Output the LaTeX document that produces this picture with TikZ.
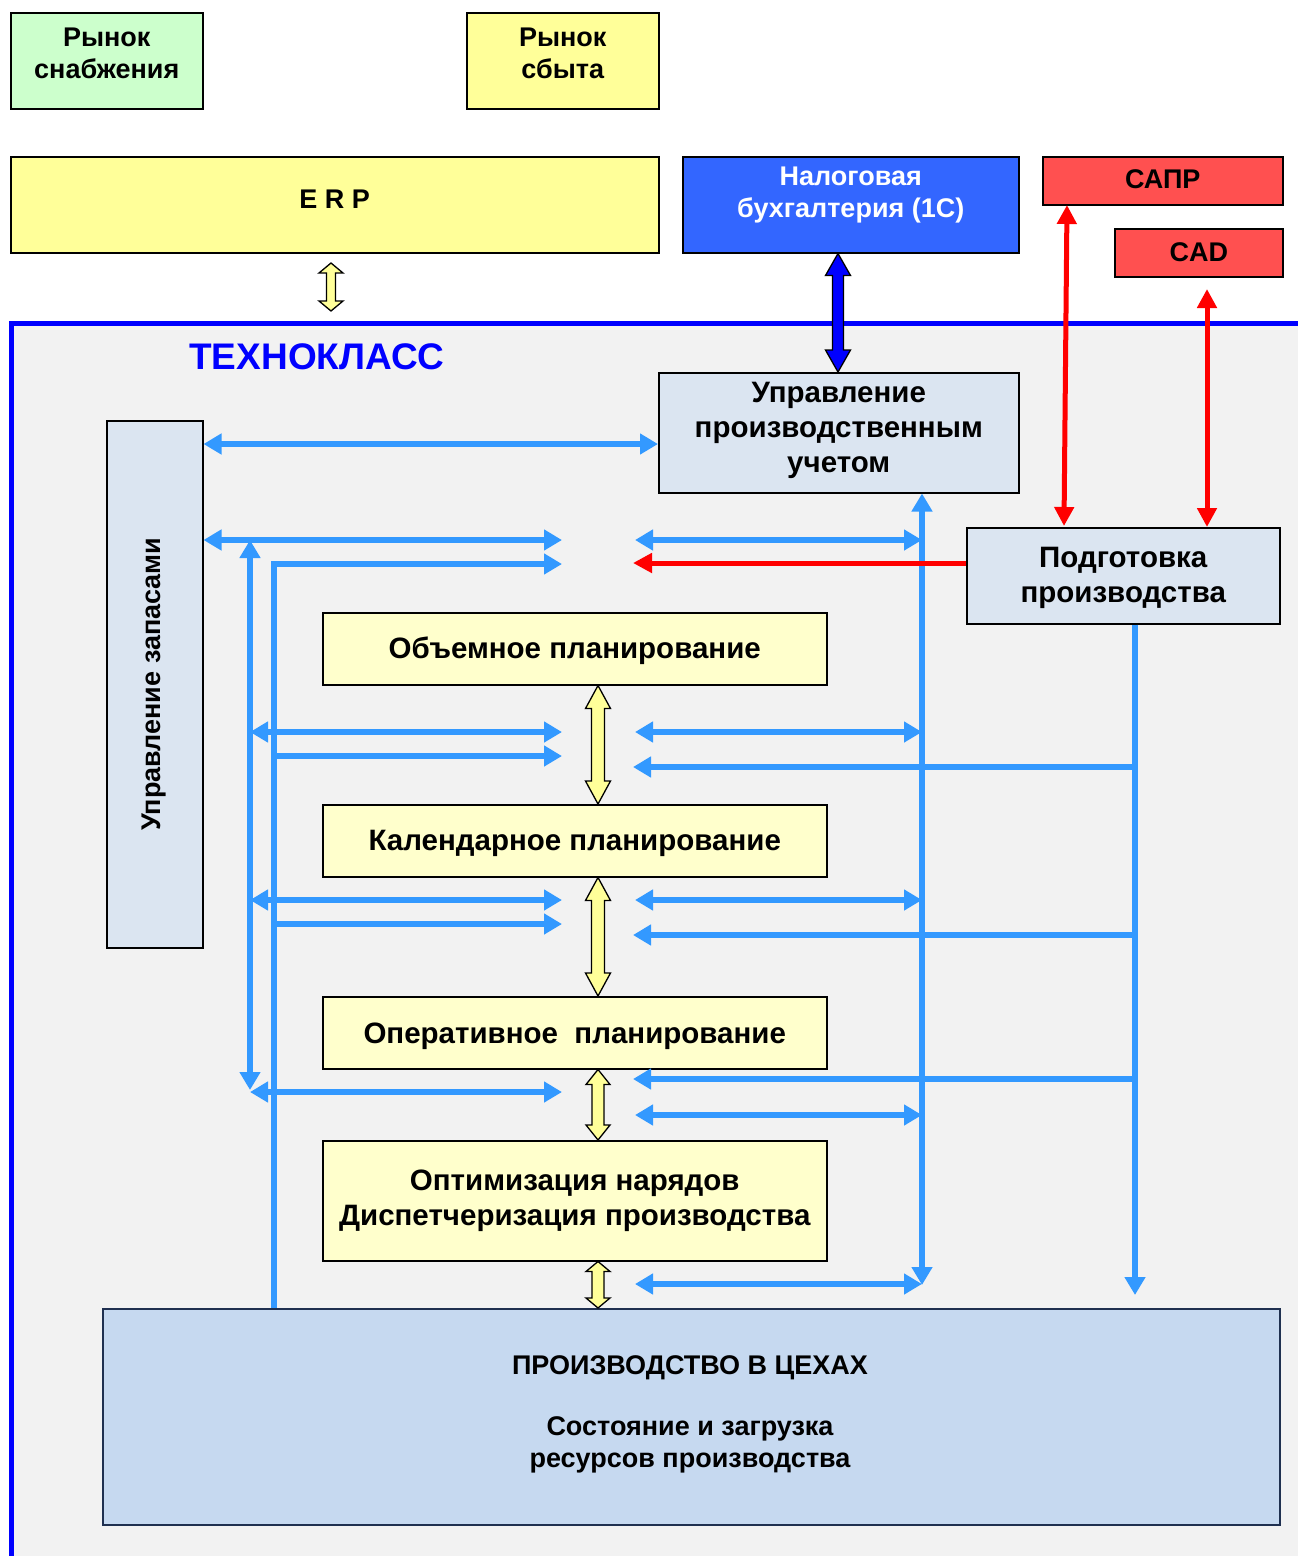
\documentclass[tikz,border=0pt]{standalone}
\usepackage{fontspec}
\setmainfont{Liberation Sans}
\usetikzlibrary{arrows.meta,calc}
\definecolor{supgreen}{HTML}{CCFFCC}
\definecolor{ylw}{HTML}{FFFF99}
\definecolor{lylw}{HTML}{FFFFCC}
\definecolor{taxblue}{HTML}{3366FF}
\definecolor{capred}{HTML}{FF5050}
\definecolor{lblue}{HTML}{DBE5F1}
\definecolor{prodblue}{HTML}{C6D9F0}
\definecolor{prodedge}{HTML}{1F3050}
\definecolor{bgg}{HTML}{F2F2F2}
\definecolor{frameblue}{HTML}{0000FF}
\definecolor{arrblue}{HTML}{3399FF}
\newcommand\vdblarrow[6]{%
  \path[draw=black, line width=1.3pt, fill=#1, line join=miter]
    let \p1=(#2), \p2=(#3) in
    (\x1,\y1) -- (\x1+#5,\y1-#6) -- (\x1+#4,\y1-#6) -- (\x1+#4,\y2+#6) --
    (\x1+#5,\y2+#6) -- (\x1,\y2) -- (\x1-#5,\y2+#6) -- (\x1-#4,\y2+#6) --
    (\x1-#4,\y1-#6) -- (\x1-#5,\y1-#6) -- cycle;}
\begin{document}
\begin{tikzpicture}[x=1pt,y=-1pt,
  box/.style={draw=black, line width=1.5pt, inner sep=0pt, anchor=north west},
  txt/.style={align=center, inner sep=0pt, font=\fontsize{27}{32}\selectfont\bfseries},
  btxt/.style={align=center, inner sep=0pt, font=\fontsize{29.5}{35}\selectfont\bfseries},
  ba/.style={draw=arrblue, line width=6pt},
  bh/.style={-{Triangle[length=18pt,width=20pt]}},
  bhh/.style={{Triangle[length=18pt,width=20pt]}-{Triangle[length=18pt,width=20pt]}},
  ra/.style={draw=red, line width=5pt},
  rh/.style={-{Triangle[length=19pt,width=19pt]}},
  rhh/.style={{Triangle[length=19pt,width=19pt]}-{Triangle[length=19pt,width=19pt]}}
]
\useasboundingbox (0,0) rectangle (1298,1556);
\fill[white] (0,0) rectangle (1298,1556);
\fill[bgg] (11,323) rectangle (1298,1556);
\draw[line width=5pt, frameblue] (11,1556) -- (11,323) -- (1298,323);

% top boxes
\node[box, fill=supgreen, minimum width=192pt, minimum height=96pt] (sup) at (10,12) {};
\node[txt] at ([yshift=7pt]sup.center) {Рынок\\снабжения};
\node[box, fill=ylw, minimum width=192pt, minimum height=96pt] (sbyt) at (466,12) {};
\node[txt] at ([yshift=7pt]sbyt.center) {Рынок\\сбыта};
\node[box, fill=ylw, minimum width=648pt, minimum height=96pt] (erp) at (10,156) {};
\node[txt] at ([yshift=6pt]erp.center) {E R P};
\node[box, fill=taxblue, minimum width=336pt, minimum height=96pt] (nal) at (682,156) {};
\node[txt, text=white] at ([yshift=10pt]nal.center) {Налоговая\\бухгалтерия (1С)};
\node[box, fill=capred, minimum width=240pt, minimum height=48pt] (sapr) at (1042,156) {};
\node[txt] at ([yshift=2pt]sapr.center) {САПР};
\node[box, fill=capred, minimum width=168pt, minimum height=48pt] (cad) at (1114,228) {};
\node[txt] at ([yshift=1pt]cad.center) {CAD};

\node[text=frameblue, inner sep=0pt, font=\fontsize{37}{40}\selectfont\bfseries] (tk) at (317,357) {ТЕХНОКЛАСС};

% inner boxes
\node[box, fill=lblue, minimum width=360pt, minimum height=120pt] (upu) at (658,372) {};
\node[btxt] at ([yshift=2pt]upu.center) {Управление\\производственным\\учетом};
\node[box, fill=lblue, minimum width=96pt, minimum height=527pt] (zap) at (106,420) {};
\node[txt, rotate=90] at ([xshift=-1pt]zap.center) {Управление запасами};
\node[box, fill=lblue, minimum width=313pt, minimum height=96pt] (podg) at (966,527) {};
\node[btxt] at ([yshift=-2pt]podg.center) {Подготовка\\производства};
\node[box, fill=lylw, minimum width=504pt, minimum height=72pt] (obj) at (322,612) {};
\node[btxt] at ([yshift=-2pt]obj.center) {Объемное планирование};
\node[box, fill=lylw, minimum width=504pt, minimum height=72pt] (kal) at (322,804) {};
\node[btxt] at ([yshift=-2.5pt]kal.center) {Календарное планирование};
\node[box, fill=lylw, minimum width=504pt, minimum height=72pt] (oper) at (322,996) {};
\node[btxt] at ([yshift=-3pt]oper.center) {Оперативное\ \ планирование};
\node[box, fill=lylw, minimum width=504pt, minimum height=120pt] (opt) at (322,1140) {};
\node[btxt] at (opt.center) {Оптимизация нарядов\\Диспетчеризация производства};
\node[box, draw=prodedge, fill=prodblue, minimum width=1177pt, minimum height=216pt] (prod) at (102,1308) {};
\node[txt] (prodt) at (690,1368) {ПРОИЗВОДСТВО В ЦЕХАХ};
\node[txt] at (690,1445) {Состояние и загрузка\\ресурсов производства};

% guide coordinates
\coordinate (xL) at (250,0);
\coordinate (xM) at (274,0);
\coordinate (xR) at (922,0);
\coordinate (xP) at (1135,0);
\coordinate (gL) at (562,0);
\coordinate (gR) at (635,0);
\coordinate (gR2) at (633,0);
\coordinate (yx) at (598,0);
\coordinate (xT) at (838,0);

% yellow hollow arrows
\coordinate (ey1) at (331,263);
\coordinate (ey2) at (331,311);
\vdblarrow{ylw}{ey1}{ey2}{4.5pt}{12pt}{10pt}
\vdblarrow{ylw}{obj.south -| yx}{kal.north -| yx}{6.5pt}{12.5pt}{23pt}
\vdblarrow{ylw}{kal.south -| yx}{oper.north -| yx}{6.5pt}{12.5pt}{23pt}
\vdblarrow{ylw}{oper.south -| yx}{opt.north -| yx}{6pt}{12pt}{15pt}
\vdblarrow{ylw}{opt.south -| yx}{prod.north -| yx}{6pt}{12pt}{10pt}
% dark blue arrow
\vdblarrow{frameblue}{nal.south -| xT}{upu.north -| xT}{5.5pt}{12.5pt}{22pt}

% blue arrows left
\draw[ba,bhh] (zap.east |- 0,444) -- (upu.west |- 0,444);
\draw[ba,bhh] (zap.east |- 0,540) -- (gL |- 0,540);
\draw[ba,bh] (prod.north -| xM) -- (xM |- 0,564) -- (gL |- 0,564);
\draw[ba,bhh] (xL |- 0,540) -- (xL |- 0,1090);
\draw[ba,bhh] (xL |- 0,732) -- (gL |- 0,732);
\draw[ba,bh] (xM |- 0,756) -- (gL |- 0,756);
\draw[ba,bhh] (xL |- 0,900) -- (gL |- 0,900);
\draw[ba,bh] (xM |- 0,924) -- (gL |- 0,924);
\draw[ba,bhh] (xL |- 0,1092) -- (gL |- 0,1092);

% blue arrows right
\draw[ba,bhh] (upu.south -| xR) -- (xR |- 0,1285);
\draw[ba,bhh] (gR |- 0,540) -- (xR |- 0,540);
\draw[ba,bhh] (gR |- 0,732) -- (xR |- 0,732);
\draw[ba,bhh] (gR |- 0,900) -- (xR |- 0,900);
\draw[ba,bhh] (gR |- 0,1115) -- (xR |- 0,1115);
\draw[ba,bhh] (gR |- 0,1284) -- (xR |- 0,1284);
\draw[ba,bh] (podg.south -| xP) -- (xP |- 0,1295);
\draw[ba,bh] (xP |- 0,767) -- (gR2 |- 0,767);
\draw[ba,bh] (xP |- 0,935) -- (gR2 |- 0,935);
\draw[ba,bh] (xP |- 0,1079) -- (gR2 |- 0,1079);

% red arrows
\coordinate (sapr1) at (1067,205);
\coordinate (podg1) at (1064,526);
\coordinate (cad1) at (1207,289);
\draw[ra,rhh] (sapr1) -- (podg1);
\draw[ra,rhh] (cad1) -- (podg.north -| cad1);
\draw[ra,rh] (podg.west |- 0,563) -- (gR2 |- 0,563);
\end{tikzpicture}
\end{document}
